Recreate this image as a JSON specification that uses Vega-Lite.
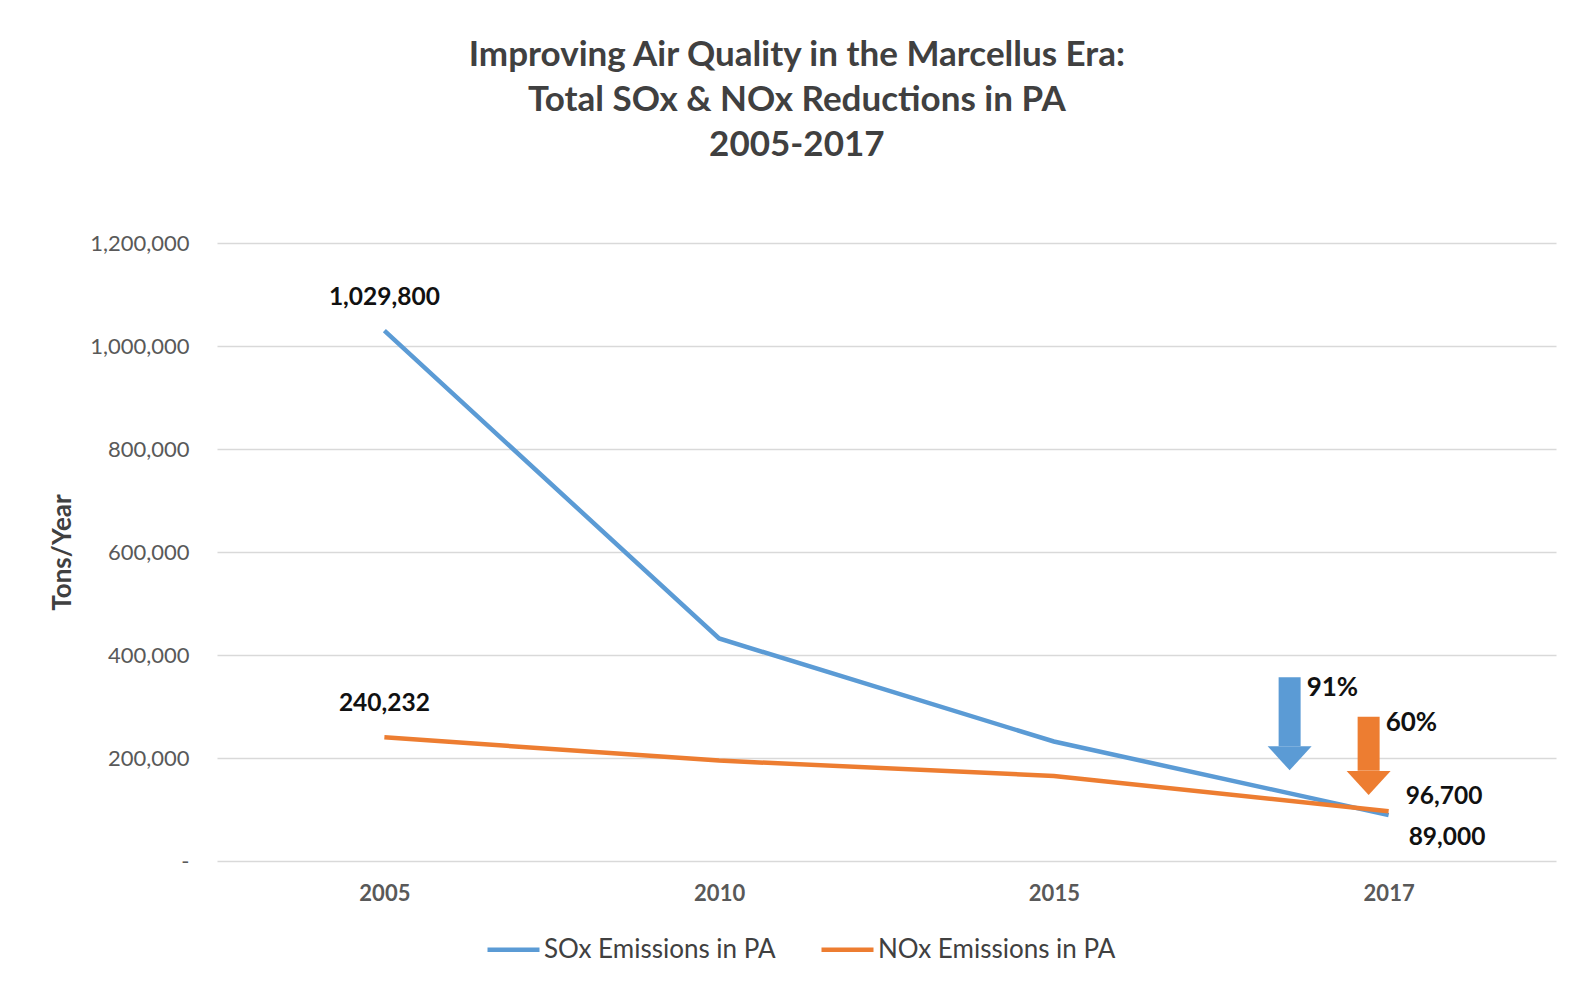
{
  "$schema": "https://vega.github.io/schema/vega-lite/v6.json",
  "width": 1339,
  "height": 618,
  "padding": {"left": 49, "top": 38, "right": 20, "bottom": 10},
  "background": "white",
  "config": {
    "font": "Lato",
    "view": {"stroke": null},
    "title": {"font": "Lato"}
  },
  "title": {
    "text": ["Improving Air Quality in the Marcellus Era:", "Total SOx & NOx Reductions in PA", "2005-2017"],
    "fontSize": 35,
    "fontWeight": "bold",
    "color": "#404040",
    "lineHeight": 45,
    "anchor": "middle",
    "frame": "bounds",
    "dx": -6,
    "offset": 69
  },
  "datasets": {
    "emissions": [
      {"year": "2005", "series": "SOx Emissions in PA", "value": 1029800},
      {"year": "2010", "series": "SOx Emissions in PA", "value": 432000},
      {"year": "2015", "series": "SOx Emissions in PA", "value": 232000},
      {"year": "2017", "series": "SOx Emissions in PA", "value": 89000},
      {"year": "2005", "series": "NOx Emissions in PA", "value": 240232},
      {"year": "2010", "series": "NOx Emissions in PA", "value": 195000},
      {"year": "2015", "series": "NOx Emissions in PA", "value": 165000},
      {"year": "2017", "series": "NOx Emissions in PA", "value": 96700}
    ],
    "arrows": [
      {"year": "2017", "series": "SOx", "top": 357000, "base": 223000, "label": "91%"},
      {"year": "2017", "series": "NOx", "top": 280000, "base": 175000, "label": "60%"}
    ]
  },
  "encoding": {
    "x": {
      "field": "year",
      "type": "ordinal",
      "scale": {"type": "point", "padding": 0.5},
      "axis": {
        "title": null,
        "domain": false,
        "ticks": false,
        "labelAngle": 0,
        "labelFontSize": 22,
        "labelFontWeight": "bold",
        "labelColor": "#595959",
        "labelPadding": 22,
        "grid": false
      }
    }
  },
  "layer": [
    {
      "data": {"name": "emissions"},
      "mark": {"type": "line", "strokeWidth": 4.5},
      "encoding": {
        "y": {
          "field": "value",
          "type": "quantitative",
          "scale": {"domain": [0, 1200000]},
          "axis": {
            "title": "Tons/Year",
            "titleFontSize": 26,
            "titleFontWeight": "bold",
            "titleColor": "#404040",
            "titlePadding": 14,
            "values": [0, 200000, 400000, 600000, 800000, 1000000, 1200000],
            "labelExpr": "datum.value == 0 ? '-' : format(datum.value, ',')",
            "labelFontSize": 22,
            "labelColor": "#595959",
            "labelPadding": 28,
            "domain": false,
            "ticks": false,
            "grid": true,
            "gridColor": "#d9d9d9",
            "gridWidth": 1.5
          }
        },
        "color": {
          "field": "series",
          "type": "nominal",
          "scale": {"domain": ["SOx Emissions in PA", "NOx Emissions in PA"], "range": ["#5B9BD5", "#ED7D31"]},
          "legend": {
            "title": null,
            "orient": "none",
            "legendX": 268,
            "legendY": 678,
            "direction": "horizontal",
            "symbolType": "stroke",
            "symbolSize": 2704,
            "symbolStrokeWidth": 4.5,
            "labelFontSize": 26,
            "labelLimit": 0,
            "labelColor": "#404040",
            "labelOffset": 2,
            "columnPadding": 36
          }
        }
      }
    },
    {
      "data": {"name": "emissions"},
      "transform": [{"filter": "datum.year == '2005'"}],
      "mark": {"type": "text", "fontSize": 24.5, "fontWeight": "bold", "color": "#111111", "dy": -33, "align": "center"},
      "encoding": {
        "y": {"field": "value", "type": "quantitative"},
        "text": {"field": "value", "type": "quantitative", "format": ","}
      }
    },
    {
      "data": {"name": "emissions"},
      "transform": [{"filter": "datum.year == '2017' && datum.series == 'NOx Emissions in PA'"}],
      "mark": {"type": "text", "fontSize": 24.5, "fontWeight": "bold", "color": "#111111", "dx": 17, "dy": -14, "align": "left"},
      "encoding": {
        "y": {"field": "value", "type": "quantitative"},
        "text": {"field": "value", "type": "quantitative", "format": ","}
      }
    },
    {
      "data": {"name": "emissions"},
      "transform": [{"filter": "datum.year == '2017' && datum.series == 'SOx Emissions in PA'"}],
      "mark": {"type": "text", "fontSize": 24.5, "fontWeight": "bold", "color": "#111111", "dx": 20, "dy": 23, "align": "left"},
      "encoding": {
        "y": {"field": "value", "type": "quantitative"},
        "text": {"field": "value", "type": "quantitative", "format": ","}
      }
    },
    {
      "data": {"name": "arrows"},
      "transform": [{"filter": "datum.series == 'SOx'"}],
      "layer": [
        {
          "mark": {"type": "rule", "strokeWidth": 22, "strokeCap": "butt", "color": "#5B9BD5", "xOffset": -99},
          "encoding": {"y": {"field": "top", "type": "quantitative"}, "y2": {"field": "base"}}
        },
        {
          "mark": {"type": "point", "shape": "M-1,0L1,0L0,1.1Z", "size": 1936, "filled": true, "opacity": 1, "color": "#5B9BD5", "xOffset": -99},
          "encoding": {"y": {"field": "base", "type": "quantitative"}}
        },
        {
          "mark": {"type": "text", "fontSize": 26, "fontWeight": "bold", "color": "#111111", "align": "left", "baseline": "middle", "dx": -82, "dy": 11},
          "encoding": {"y": {"field": "top", "type": "quantitative"}, "text": {"field": "label"}}
        }
      ]
    },
    {
      "data": {"name": "arrows"},
      "transform": [{"filter": "datum.series == 'NOx'"}],
      "layer": [
        {
          "mark": {"type": "rule", "strokeWidth": 22, "strokeCap": "butt", "color": "#ED7D31", "xOffset": -20},
          "encoding": {"y": {"field": "top", "type": "quantitative"}, "y2": {"field": "base"}}
        },
        {
          "mark": {"type": "point", "shape": "M-1,0L1,0L0,1.1Z", "size": 1936, "filled": true, "opacity": 1, "color": "#ED7D31", "xOffset": -20},
          "encoding": {"y": {"field": "base", "type": "quantitative"}}
        },
        {
          "mark": {"type": "text", "fontSize": 26, "fontWeight": "bold", "color": "#111111", "align": "left", "baseline": "middle", "dx": -3, "dy": 6},
          "encoding": {"y": {"field": "top", "type": "quantitative"}, "text": {"field": "label"}}
        }
      ]
    }
  ]
}
